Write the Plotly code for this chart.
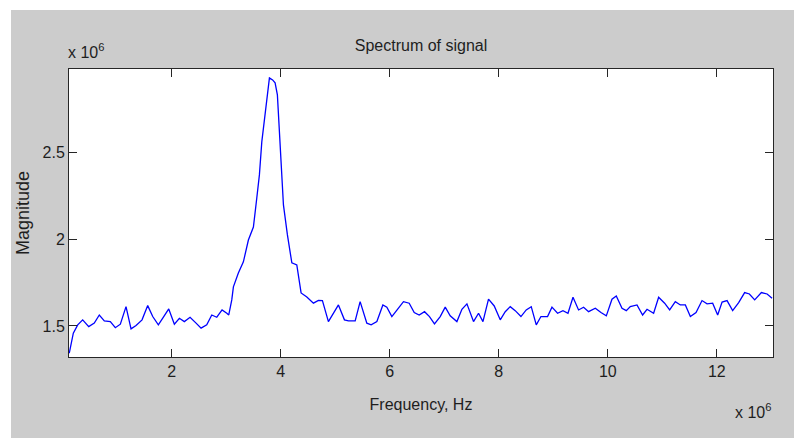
import plotly.graph_objects as go

# Frequency in MHz (axis shows x 10^6 Hz)
freq_mhz = [
    0.120, 0.152, 0.194, 0.275, 0.366, 0.477, 0.579, 0.671, 0.763, 0.873,
    0.965, 1.057, 1.161, 1.253, 1.345, 1.455, 1.559, 1.651, 1.754, 1.853,
    1.945, 2.048, 2.140, 2.231, 2.336, 2.446, 2.538, 2.642, 2.734, 2.826,
    2.923, 3.010, 3.046, 3.101, 3.131, 3.222, 3.314, 3.406, 3.498, 3.560,
    3.608, 3.652, 3.700, 3.744, 3.792, 3.850, 3.896, 3.938, 3.975, 4.006,
    4.049, 4.122, 4.203, 4.294, 4.373, 4.478, 4.599, 4.691, 4.764, 4.874,
    5.058, 5.168, 5.242, 5.365, 5.456, 5.579, 5.658, 5.763, 5.873, 5.946,
    6.038, 6.159, 6.251, 6.356, 6.448, 6.539, 6.637, 6.728, 6.820, 6.925,
    7.017, 7.108, 7.231, 7.323, 7.415, 7.536, 7.628, 7.709, 7.811, 7.916,
    8.026, 8.118, 8.210, 8.301, 8.406, 8.503, 8.595, 8.687, 8.773, 8.894,
    8.975, 9.078, 9.177, 9.269, 9.361, 9.463, 9.555, 9.647, 9.770, 9.874,
    9.972, 10.076, 10.155, 10.260, 10.339, 10.412, 10.535, 10.638, 10.719, 10.840,
    10.932, 11.042, 11.134, 11.238, 11.330, 11.422, 11.514, 11.618, 11.728, 11.820,
    11.923, 12.015, 12.096, 12.187, 12.290, 12.400, 12.510, 12.597, 12.694, 12.817,
    12.922, 13.013,
]

# Magnitude in units of 10^6
magnitude_e6 = [
    1.343, 1.391, 1.458, 1.506, 1.535, 1.496, 1.516, 1.563, 1.529, 1.525,
    1.490, 1.510, 1.611, 1.483, 1.502, 1.535, 1.617, 1.554, 1.506, 1.554,
    1.598, 1.510, 1.544, 1.525, 1.550, 1.516, 1.487, 1.506, 1.563, 1.550,
    1.592, 1.573, 1.563, 1.650, 1.725, 1.805, 1.869, 1.995, 2.070, 2.237,
    2.370, 2.560, 2.698, 2.813, 2.929, 2.917, 2.900, 2.831, 2.618, 2.427,
    2.197, 2.024, 1.863, 1.851, 1.690, 1.667, 1.631, 1.647, 1.646, 1.525,
    1.621, 1.535, 1.529, 1.529, 1.640, 1.516, 1.506, 1.525, 1.621, 1.608,
    1.554, 1.602, 1.640, 1.631, 1.577, 1.563, 1.582, 1.554, 1.512, 1.554,
    1.608, 1.558, 1.525, 1.596, 1.627, 1.525, 1.573, 1.525, 1.654, 1.615,
    1.535, 1.582, 1.611, 1.588, 1.554, 1.592, 1.611, 1.506, 1.554, 1.554,
    1.608, 1.573, 1.588, 1.573, 1.665, 1.592, 1.608, 1.582, 1.602, 1.577,
    1.558, 1.654, 1.673, 1.602, 1.588, 1.611, 1.621, 1.563, 1.596, 1.573,
    1.665, 1.631, 1.592, 1.640, 1.621, 1.621, 1.554, 1.577, 1.646, 1.627,
    1.631, 1.563, 1.637, 1.646, 1.588, 1.634, 1.692, 1.684, 1.650, 1.692,
    1.684, 1.660,
]

x_ticks = [2, 4, 6, 8, 10, 12]
x_ticklabels = ["2", "4", "6", "8", "10", "12"]
y_ticks = [1.5, 2.0, 2.5]
y_ticklabels = ["1.5", "2", "2.5"]

title_text = "Spectrum of signal"
x_label = "Frequency, Hz"
y_label = "Magnitude"
exp_label = "x 10<sup>6</sup>"

FONT = "Liberation Sans, Arial, Helvetica, sans-serif"
FS = 16
TXT = "#1e1e1e"
AX = "#262626"

fig = go.Figure()
fig.add_trace(go.Scatter(
    x=freq_mhz, y=magnitude_e6, mode="lines",
    line=dict(color="#0000ff", width=1.3),
    showlegend=False, hoverinfo="skip",
))

W, H = 794, 438
L, R, T, B = 69, 21, 69, 81
pw, ph = W - L - R, H - T - B

def px_x(px):
    return (px - L) / pw

def px_y(py):
    return (H - B - py) / ph

fig.update_layout(
    width=W, height=H,
    margin=dict(l=L, r=R, t=T, b=B),
    paper_bgcolor="#cccccc",
    plot_bgcolor="#ffffff",
    font=dict(family=FONT, size=FS, color=TXT),
    title=dict(text=title_text, x=0.5 * (L + W - R) / W, xanchor="center",
               y=1 - 45 / H, yanchor="middle", yref="container",
               font=dict(family=FONT, size=FS, color=TXT)),
    xaxis=dict(
        range=[0.115, 13.03], tickvals=x_ticks, ticktext=x_ticklabels,
        ticks="inside", ticklen=8, tickwidth=1, tickcolor=AX,
        showline=True, linecolor=AX, linewidth=1, mirror="ticks",
        showgrid=False, zeroline=False,
        tickfont=dict(family=FONT, size=FS, color=TXT),
        title=dict(text=x_label, standoff=19, font=dict(family=FONT, size=FS, color=TXT)),
    ),
    yaxis=dict(
        range=[1.321, 2.98], tickvals=y_ticks, ticktext=y_ticklabels,
        ticks="inside", ticklen=8, tickwidth=1, tickcolor=AX,
        showline=True, linecolor=AX, linewidth=1, mirror="ticks",
        showgrid=False, zeroline=False,
        tickfont=dict(family=FONT, size=FS, color=TXT),
        title=dict(text=y_label, standoff=8, font=dict(family=FONT, size=18, color=TXT)),
    ),
    shapes=[
        dict(type="rect", xref="paper", yref="paper", layer="below",
             x0=px_x(-5), x1=px_x(11), y0=px_y(H + 5), y1=px_y(-5),
             fillcolor="#ffffff", line=dict(width=0)),
        dict(type="rect", xref="paper", yref="paper", layer="below",
             x0=px_x(-5), x1=px_x(W + 5), y0=px_y(10), y1=px_y(-5),
             fillcolor="#ffffff", line=dict(width=0)),
    ],
    annotations=[
        dict(text=exp_label, xref="paper", yref="paper", x=px_x(66), y=px_y(51),
             xanchor="left", yanchor="middle", showarrow=False,
             font=dict(family=FONT, size=FS, color=TXT)),
        dict(text=exp_label, xref="paper", yref="paper", x=px_x(773), y=px_y(411),
             xanchor="right", yanchor="middle", showarrow=False,
             font=dict(family=FONT, size=FS, color=TXT)),
    ],
)

fig.write_html("out.html")
